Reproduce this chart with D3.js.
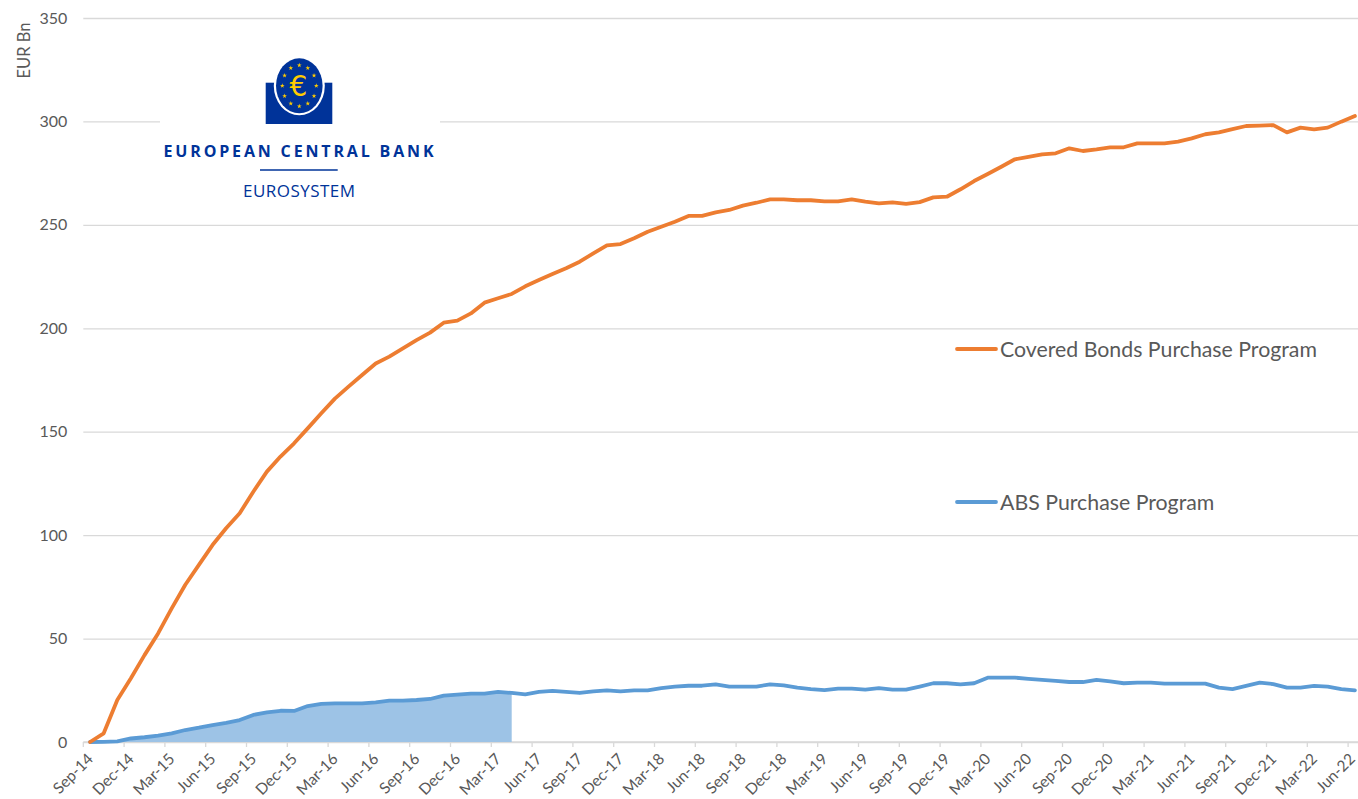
<!DOCTYPE html>
<html>
<head>
<meta charset="utf-8">
<script src="https://cdn.jsdelivr.net/npm/d3@7"></script>
<style>
  html, body { margin: 0; padding: 0; background: #fff; }
  svg { display: block; }
</style>
</head>
<body>
<svg id="chart" width="1358" height="799"></svg>
<script>
// Monthly categories, Sep-14 to Jun-22
const startMonth = new Date(2014, 8, 1);
const endMonth = new Date(2022, 5, 1);
const fmtMonth = d3.timeFormat("%b-%y");
const months = d3.timeMonth.range(startMonth, d3.timeMonth.offset(endMonth, 1)).map(fmtMonth);

// Covered Bonds Purchase Program holdings, EUR bn (month end)
const cbpp = [
  0, 4.2, 20.3, 30.8, 42.0, 52.5, 64.6, 76.0, 85.6, 95.2, 103.3, 110.6,
  121.0, 130.7, 138.0, 144.4, 151.6, 158.9, 166.0, 171.8, 177.4, 183.0, 186.3, 190.3,
  194.3, 197.9, 202.7, 203.7, 207.2, 212.4, 214.5, 216.6, 220.3, 223.3, 226.2, 229.0,
  232.2, 236.2, 240.1, 240.7, 243.5, 246.7, 249.1, 251.5, 254.3, 254.3, 256.0, 257.2,
  259.3, 260.7, 262.3, 262.3, 261.9, 261.9, 261.4, 261.4, 262.3, 261.2, 260.4, 260.9,
  260.1, 261.0, 263.3, 263.6, 267.2, 271.2, 274.6, 278.1, 281.7, 282.9, 284.1, 284.6,
  287.0, 285.7, 286.5, 287.5, 287.5, 289.4, 289.4, 289.4, 290.2, 291.8, 293.8, 294.7,
  296.3, 297.8, 298.0, 298.2, 294.7, 297.0, 296.2, 297.0, 299.9, 302.6
];

// ABS Purchase Program holdings, EUR bn (month end)
const abspp = [
  0, 0.1, 0.3, 1.7, 2.3, 3.1, 4.2, 5.8, 6.9, 8.2, 9.3, 10.6,
  13.1, 14.3, 15.1, 15.0, 17.4, 18.4, 18.7, 18.7, 18.7, 19.2, 20.0, 20.0,
  20.3, 20.8, 22.4, 22.9, 23.4, 23.4, 24.2, 23.7, 23.0, 24.2, 24.7, 24.2,
  23.7, 24.5, 25.0, 24.5, 25.0, 25.0, 26.0, 26.8, 27.2, 27.2, 27.9, 26.8,
  26.8, 26.8, 27.9, 27.4, 26.3, 25.6, 25.1, 25.8, 25.8, 25.3, 26.0, 25.3,
  25.3, 26.8, 28.4, 28.4, 27.9, 28.4, 31.1, 31.1, 31.1, 30.5, 30.0, 29.5,
  29.0, 29.0, 30.0, 29.3, 28.4, 28.7, 28.7, 28.2, 28.2, 28.2, 28.2, 26.3,
  25.6, 27.1, 28.7, 28.0, 26.3, 26.3, 27.1, 26.8, 25.6, 25.0
];

// ABS holdings are shaded up to this month
const absShadeEnd = "Apr-17";

const yTicks = [0, 50, 100, 150, 200, 250, 300, 350];
const tickEvery = 3;
const seriesNames = ["Covered Bonds Purchase Program", "ABS Purchase Program"];

const svg = d3.select("#chart");
const textColor = "#595959";
const gridColor = "#d9d9d9";
const orange = "#ed7d31";
const blue = "#5b9bd5";
const areaFill = "#9dc3e6";
const font = "Lato, 'Open Sans', sans-serif";

const plot = { left: 83.3, top: 18, bottom: 742 };
const catWidth = 13.6;
const x = d3.scaleBand().domain(months)
  .range([plot.left, plot.left + months.length * catWidth])
  .paddingInner(0).paddingOuter(0);
const y = d3.scaleLinear().domain([0, 350]).range([plot.bottom, plot.top]);
const cx = m => x(m) + x.bandwidth() / 2;

// Horizontal gridlines
const yAxis = d3.axisLeft(y).tickValues(yTicks).tickSize(-(1358 - plot.left + 20)).tickPadding(16);
const gy = svg.append("g").attr("transform", `translate(${plot.left},0)`).call(yAxis);
gy.select(".domain").remove();
gy.selectAll(".tick line").attr("stroke", gridColor).attr("stroke-width", 1.3);
gy.selectAll(".tick text")
  .attr("fill", textColor).attr("font-family", font).attr("font-size", 16);

// Y axis title
svg.append("text")
  .attr("transform", "translate(30,50.5) rotate(-90)")
  .attr("text-anchor", "middle")
  .attr("fill", textColor).attr("font-family", font).attr("font-size", 16.5)
  .text("EUR Bn");

// X axis: tick marks at category edges, labels every third month
const labelMonths = months.filter((m, i) => i % tickEvery === 0);
const gx = svg.append("g").attr("transform", `translate(0,${plot.bottom})`);
gx.append("line")
  .attr("x1", plot.left).attr("x2", 1358)
  .attr("stroke", gridColor).attr("stroke-width", 1.3);
gx.selectAll("line.tick").data(labelMonths).join("line")
  .attr("class", "tick")
  .attr("x1", d => x(d)).attr("x2", d => x(d))
  .attr("y1", 0).attr("y2", 5)
  .attr("stroke", gridColor).attr("stroke-width", 1.3);
gx.selectAll("text").data(labelMonths).join("text")
  .attr("transform", d => `translate(${Math.min(cx(d) + 4, 1356)},${18}) rotate(-45)`)
  .attr("text-anchor", "end")
  .attr("fill", textColor).attr("font-family", font).attr("font-size", 15.5)
  .text(d => d);

// ABS shaded area
const shadeIdx = months.indexOf(absShadeEnd);
const shadeData = abspp.slice(0, shadeIdx + 1).map((v, i) => ({ m: months[i], v }));
svg.append("path")
  .datum(shadeData)
  .attr("fill", areaFill)
  .attr("d", d3.area().x(d => cx(d.m)).y0(y(0)).y1(d => y(d.v)));

// Series lines
const lineGen = d3.line().x(d => cx(d.m)).y(d => y(d.v));
[[abspp, blue], [cbpp, orange]].forEach(([vals, col]) => {
  svg.append("path")
    .datum(vals.map((v, i) => ({ m: months[i], v })))
    .attr("fill", "none").attr("stroke", col)
    .attr("stroke-width", 3.8).attr("stroke-linejoin", "round").attr("stroke-linecap", "round")
    .attr("d", lineGen);
});

// Legend
const legend = [
  { name: seriesNames[0], color: orange, y: 349 },
  { name: seriesNames[1], color: blue, y: 502 }
];
const lg = svg.selectAll("g.legend").data(legend).join("g")
  .attr("class", "legend")
  .attr("transform", d => `translate(957,${d.y})`);
lg.append("line").attr("x1", 0).attr("x2", 39)
  .attr("stroke", d => d.color).attr("stroke-width", 3.8).attr("stroke-linecap", "round");
lg.append("text").attr("x", 43).attr("y", 7.5)
  .attr("fill", textColor).attr("font-family", font).attr("font-size", 21.3)
  .text(d => d.name);

// ECB logo block
const ecbBlue = "#003399";
const logo = svg.append("g");
logo.append("rect").attr("x", 160).attr("y", 40).attr("width", 280).attr("height", 165).attr("fill", "#fff");
logo.append("rect").attr("x", 265.7).attr("y", 82.7).attr("width", 66.6).attr("height", 41.3).attr("fill", ecbBlue);
logo.append("ellipse").attr("cx", 299.3).attr("cy", 85.8).attr("rx", 25.5).attr("ry", 29.5).attr("fill", "#fff");
logo.append("ellipse").attr("cx", 299.3).attr("cy", 85.8).attr("rx", 23.3).attr("ry", 27.5).attr("fill", ecbBlue);
const star = d3.symbol().type(d3.symbolStar).size(7);
d3.range(12).forEach(k => {
  const a = k * Math.PI / 6;
  logo.append("path").attr("d", star)
    .attr("transform", `translate(${299.3 + 17 * Math.sin(a)},${85.8 - 20.5 * Math.cos(a)})`)
    .attr("fill", "#ffcc00");
});
logo.append("text").attr("x", 298.5).attr("y", 96)
  .attr("text-anchor", "middle").attr("fill", "#ffcc00")
  .attr("font-family", "'DejaVu Sans', sans-serif").attr("font-size", 28)
  .text("€");
logo.append("text").attr("x", 163.5).attr("y", 157.3)
  .attr("fill", ecbBlue).attr("font-family", "'Open Sans', sans-serif").attr("font-weight", 700)
  .attr("font-size", 16).attr("textLength", 270).attr("lengthAdjust", "spacing")
  .text("EUROPEAN CENTRAL BANK");
logo.append("line").attr("x1", 260).attr("x2", 337.7).attr("y1", 170).attr("y2", 170)
  .attr("stroke", ecbBlue).attr("stroke-width", 1.3);
logo.append("text").attr("x", 243).attr("y", 197.3)
  .attr("fill", ecbBlue).attr("font-family", "'Open Sans', sans-serif")
  .attr("font-size", 17).attr("textLength", 112).attr("lengthAdjust", "spacing")
  .text("EUROSYSTEM");
</script>
</body>
</html>
